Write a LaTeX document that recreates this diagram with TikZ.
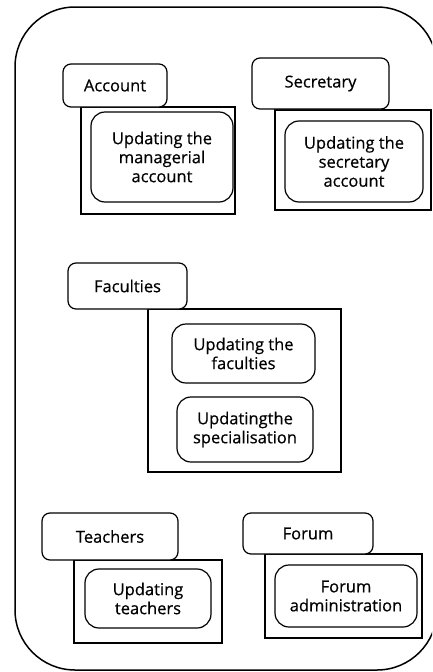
\documentclass[tikz,border=0pt]{standalone}
\usepackage{fontspec}
\setmainfont{Open Sans}[FakeBold=0.5]
\begin{document}
\begin{tikzpicture}[x=1pt,y=-1pt,
  frame/.style={draw, line width=1.5pt, rounded corners=60pt},
  grp/.style={draw, line width=1.2pt, fill=white, inner sep=0pt},
  tag/.style={draw, line width=1.2pt, rounded corners=8pt, fill=white, inner sep=0pt,
    font=\fontsize{16.5}{19}\selectfont},
  task/.style={draw, line width=1.2pt, rounded corners=14pt, fill=white, inner sep=0pt,
    align=center, font=\fontsize{16.5}{19}\selectfont},
]
\clip (0,0) rectangle (432,672);
\fill[white] (0,0) rectangle (432,672);

% outer system frame
\draw[frame] (15,7) rectangle (437,670);

% Account
\node[grp, minimum width=154, minimum height=107] (accG) at (158,160.5) {};
\node[tag, minimum width=104, minimum height=43] (accT) at (115,85.5) {Account};
\node[task, minimum width=142, minimum height=90] (accU) at (162,157)
  {Updating the\\managerial\\account};

% Secretary
\node[grp, minimum width=156, minimum height=100] (secG) at (353,160) {};
\node[tag, minimum width=137, minimum height=51] (secT) at (320.5,83.5) {Secretary};
\node[task, minimum width=138, minimum height=81] (secU) at (354,161.5)
  {Updating the\\secretary\\account};

% Faculties
\node[grp, minimum width=193, minimum height=163] (facG) at (244.5,390.5) {};
\node[tag, minimum width=119, minimum height=46] (facT) at (127.5,286) {Faculties};
\node[task, minimum width=143, minimum height=59] (facU) at (243.5,353.5)
  {Updating the\\faculties};
\node[task, minimum width=136, minimum height=65] (facS) at (245,429.5)
  {Updatingthe\\specialisation};

% Teachers
\node[grp, minimum width=148, minimum height=83] (teaG) at (148,601.5) {};
\node[tag, minimum width=136, minimum height=47] (teaT) at (110,536.5) {Teachers};
\node[task, minimum width=126, minimum height=59] (teaU) at (148,598.5)
  {Updating\\teachers};

% Forum
\node[grp, minimum width=157, minimum height=84] (forG) at (343.5,596) {};
\node[tag, minimum width=130, minimum height=41] (forT) at (308,533.5) {Forum};
\node[task, minimum width=142, minimum height=62] (forU) at (346,596)
  {Forum\\administration};
\end{tikzpicture}
\end{document}
